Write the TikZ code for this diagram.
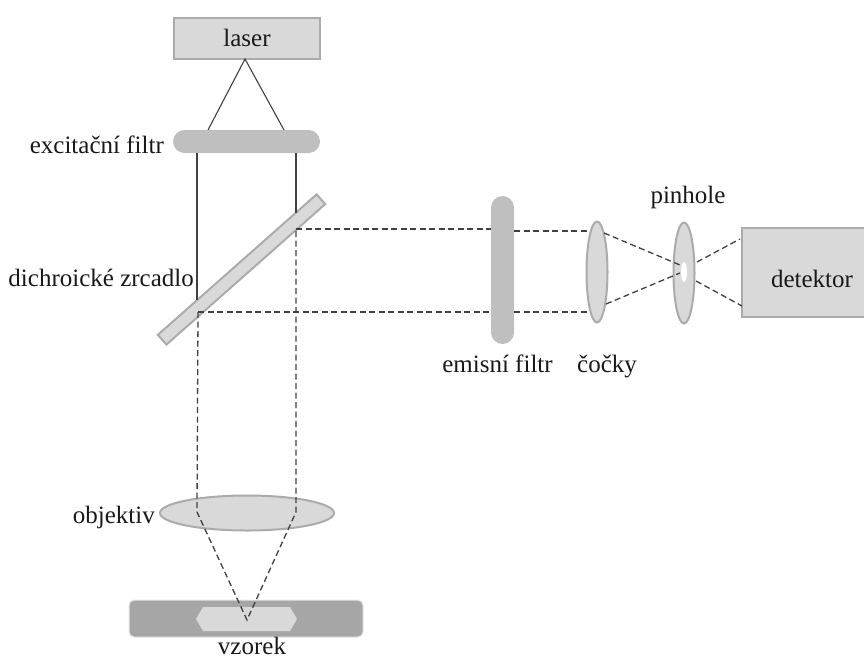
\documentclass[tikz,border=0pt]{standalone}
\usepackage{fontspec}
\setmainfont{Liberation Serif}
\usetikzlibrary{shapes.geometric}
\definecolor{fillL}{HTML}{D9D9D9}
\definecolor{edgeL}{HTML}{ABABAB}
\definecolor{fillM}{HTML}{BFBFBF}
\definecolor{fillD}{HTML}{A6A6A6}
\definecolor{lineC}{HTML}{404040}
\tikzset{
  lbl/.style={inner sep=0pt,anchor=base,font=\fontsize{25}{28}\selectfont,text=black!90},
  part/.style={fill=fillL,draw=edgeL,line width=2pt},
  ray/.style={draw=lineC,line width=1.1pt},
  dray/.style={draw=lineC,line width=1.3pt,dash pattern=on 6pt off 3.5pt},
}
\begin{document}
\begin{tikzpicture}[x=1pt,y=-1pt]
\useasboundingbox (0,0) rectangle (864,659);
% ray anchor points
\coordinate (lasS) at (245,59);
\coordinate (exL) at (208,130);
\coordinate (exR) at (284,130);
\coordinate (exBL) at (197,153);
\coordinate (exBR) at (296,153);
\coordinate (mirL) at (197,300);
\coordinate (mirR) at (296,213);
\coordinate (hitR) at (296,229);
\coordinate (hitL) at (198,312);
\coordinate (emTi) at (491,229);
\coordinate (emBi) at (491,312);
\coordinate (emTo) at (514,231);
\coordinate (emBo) at (514,312);
\coordinate (lensTi) at (589,231);
\coordinate (lensBi) at (589,312);
\coordinate (lensTo) at (604,233);
\coordinate (lensBo) at (606,304);
\coordinate (pinA) at (680,265);
\coordinate (pinB) at (680,273);
\coordinate (pinC) at (697,262);
\coordinate (pinD) at (696,281);
\coordinate (detA) at (740,239);
\coordinate (detB) at (742,306);
\coordinate (objL) at (197,512);
\coordinate (objR) at (296,512);
\coordinate (focus) at (247,620);
% sample slide
\node (slide) [draw=fillL!60,line width=1pt,fill=fillD,rounded corners=5pt,minimum width=234pt,minimum height=37pt,inner sep=0pt] at (246,618.5) {};
\fill[fillL] (196,619) -- (203,607) -- (290,607) -- (297,619) -- (290,631) -- (203,631) -- cycle;
% filled parts
\node (laser) [part,minimum width=146pt,minimum height=41pt,inner sep=0pt] at (246.5,38) {};
\node (exc) [fill=fillM,rounded corners=11.5pt,minimum width=147pt,minimum height=23pt,inner sep=0pt] at (246.5,141.5) {};
\node (mirror) [part,rotate=41.5,minimum width=212pt,minimum height=13pt,inner sep=0pt] at (241.5,269.5) {};
\node (emis) [fill=fillM,rounded corners=11.5pt,minimum width=23pt,minimum height=148pt,inner sep=0pt] at (502.5,270) {};
\node (lens) [part,ellipse,minimum width=21pt,minimum height=101pt,inner sep=0pt] at (597,272) {};
\node (pin) [part,ellipse,minimum width=21pt,minimum height=101pt,inner sep=0pt] at (684,273) {};
\node (hole) [ellipse,fill=white,minimum width=6pt,minimum height=20pt,inner sep=0pt] at (684,272) {};
\node (det) [part,minimum width=124pt,minimum height=89pt,inner sep=0pt] at (804,272.5) {};
\node (obj) [part,ellipse,minimum width=174pt,minimum height=35pt,inner sep=0pt] at (247,513) {};
% solid rays
\draw[ray] (exL) -- (lasS) -- (exR);
\draw[ray] (exBL) -- (mirL);
\draw[ray] (exBR) -- (mirR);
% dashed rays
\draw[dray] (hitR) -- (emTi);
\draw[dray] (hitL) -- (emBi);
\draw[dray] (emTo) -- (lensTi);
\draw[dray] (emBo) -- (lensBi);
\draw[dray] (lensTo) -- (pinA);
\draw[dray] (lensBo) -- (pinB);
\draw[dray] (pinC) -- (detA);
\draw[dray] (pinD) -- (detB);
\draw[dray] (hitL) -- (objL) -- (focus) -- (objR) -- (hitR);
% labels
\node (tlaser) [lbl] at (247,46) {laser};
\node (texc) [lbl,anchor=base east] at (164,153) {excitační filtr};
\node (tdich) [lbl,anchor=base east] at (194,286) {dichroické zrcadlo};
\node (temis) [lbl] at (497.5,372) {emisní filtr};
\node (tcoc) [lbl] at (607,372) {čočky};
\node (tpin) [lbl] at (688,203) {pinhole};
\node (tdet) [lbl] at (812,287) {detektor};
\node (tobj) [lbl,anchor=base east] at (155,523) {objektiv};
\node (tvz) [lbl] at (252,654.5) {vzorek};
\end{tikzpicture}
\end{document}
